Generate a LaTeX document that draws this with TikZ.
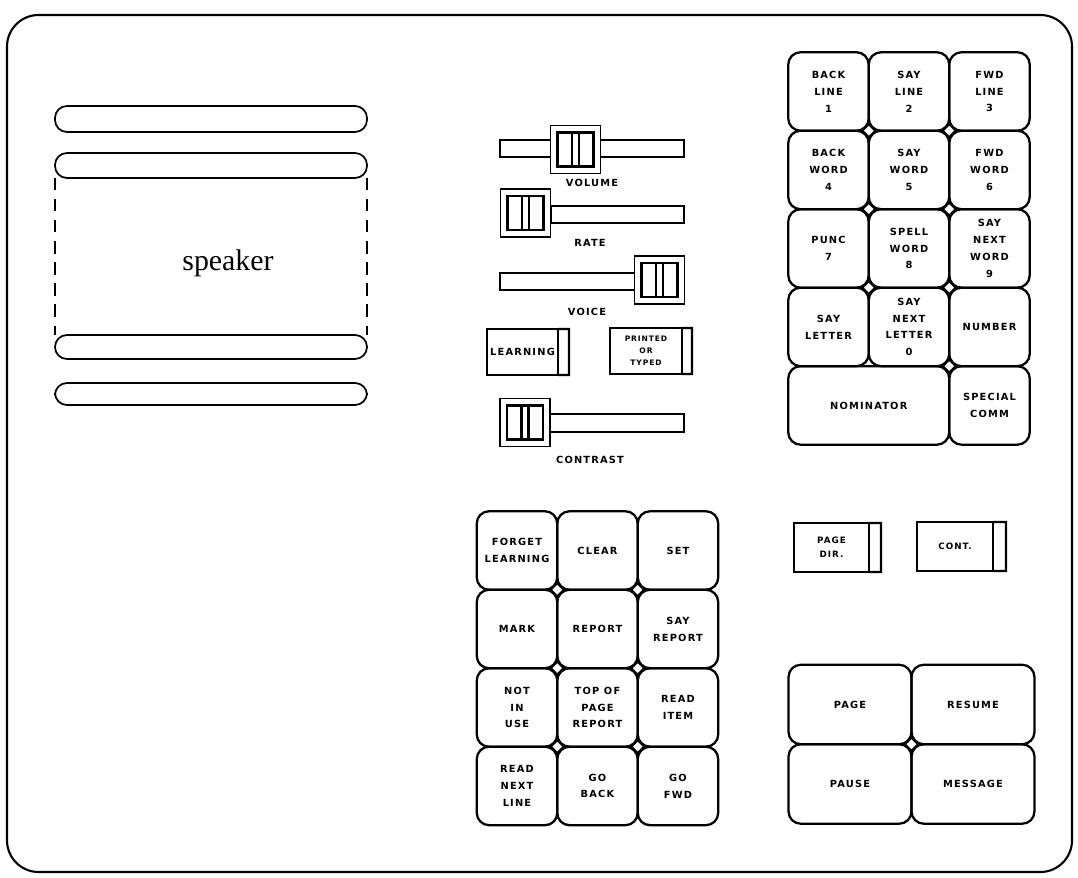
\documentclass[tikz,border=0pt]{standalone}
\usepackage{fontspec}
\newfontfamily\keyfam{DejaVu Sans}[LetterSpace=12]
\newfontfamily\spkfam{Liberation Serif}
\usetikzlibrary{positioning}
\tikzset{knob/.pic={
  \draw[line width=1.1pt, fill=white] (-25,-24) rectangle (25,24);
  \draw[line width=1.2pt] (-18,-17) rectangle (18,17) (-3.5,-17) -- (-3.5,17) (3.5,-17) -- (3.5,17);
}, joint/.pic={
  \draw[line width=1.2pt, fill=white] (-6.5,0) -- (0,-6.5) -- (6.5,0) -- (0,6.5) -- cycle;
}}

\begin{document}
\begin{tikzpicture}[x=0.02cm, y=-0.02cm, node distance=0pt,
  every node/.style={align=center, font={\keyfam\bfseries\fontsize{5.6}{9.6}\selectfont}},
  key/.style={draw, line width=1.3pt, rounded corners=7pt, minimum width=1.61cm, minimum height=1.57cm, outer sep=0pt, inner sep=1pt},
  bigkey/.style={key, minimum width=2.46cm, minimum height=1.59cm},
  toggle/.style={draw, line width=1.2pt, minimum height=0.92cm, outer sep=0pt, inner sep=1pt},
  track/.style={draw, line width=1.1pt, fill=white},
  bar/.style={draw, line width=1pt, rounded corners=0.24cm}]
\useasboundingbox (0,0) rectangle (1078,878);
% panel
\draw[line width=1.2pt, rounded corners=18pt] (7,15) rectangle (1072,872);
% speaker grille
\draw[bar] (55,106) rectangle (367,132);
\draw[bar] (55,153) rectangle (367,178);
\draw[bar] (55,335) rectangle (367,359);
\draw[bar] (55,383) rectangle (367,405);
\draw[line width=0.6pt, dash pattern=on 7pt off 5pt] (55,178) -- (55,335) (367,178) -- (367,335);
\node[font={\spkfam\fontsize{17}{20}\selectfont}] (spk) at (228,263) {speaker};
% sliders
\draw[track] (500,140) rectangle (684,157);
\pic at (575.5,149.5) {knob};
\node (vol) at (592,183) {VOLUME};
\draw[track] (551,206) rectangle (684,223);
\pic at (525.5,213) {knob};
\node (rate) at (590,243) {RATE};
\draw[track] (500,273) rectangle (635,290);
\pic at (659.5,280) {knob};
\node (voice) at (587,312) {VOICE};
\draw[track] (549,414) rectangle (684,432);
\pic at (525,422.5) {knob};
\node (contrast) at (590,460) {CONTRAST};
% switches
\node[toggle, minimum width=1.42cm] (learning) at (522.5,352) {LEARNING};
\draw[line width=1.2pt] (learning.north east) -- ++(11,0) -- ++(0,46) -- (learning.south east);
\node[toggle, minimum width=1.44cm, font={\keyfam\bfseries\fontsize{4.3}{6.7}\selectfont}] (printed) at (646,351) {PRINTED\\OR\\TYPED};
\draw[line width=1.2pt] (printed.north east) -- ++(10,0) -- ++(0,46) -- (printed.south east);
\node[toggle, minimum width=1.5cm, minimum height=0.98cm, font={\keyfam\bfseries\fontsize{5}{7.8}\selectfont}] (pagedir) at (831.5,547.5) {PAGE\\DIR.};
\draw[line width=1.2pt] (pagedir.north east) -- ++(12,0) -- ++(0,49) -- (pagedir.south east);
\node[toggle, minimum width=1.52cm, minimum height=0.98cm, font={\keyfam\bfseries\fontsize{5}{7.8}\selectfont}] (cont) at (955,546.5) {CONT.};
\draw[line width=1.2pt] (cont.north east) -- ++(13,0) -- ++(0,49) -- (cont.south east);
% reading keypad
\node[key] (bline) at (828.5,91.5) {BACK\\LINE\\1};
\node[key, right=of bline] (sline) {SAY\\LINE\\2};
\node[key, right=of sline] (fline) {FWD\\LINE\\3};
\node[key, below=of bline] (bword) {BACK\\WORD\\4};
\node[key, right=of bword] (sword) {SAY\\WORD\\5};
\node[key, right=of sword] (fword) {FWD\\WORD\\6};
\node[key, below=of bword] (punc) {PUNC\\7};
\node[key, right=of punc] (spell) {SPELL\\WORD\\8};
\node[key, right=of spell] (snword) {SAY\\NEXT\\WORD\\9};
\node[key, below=of punc] (sletter) {SAY\\LETTER};
\node[key, right=of sletter] (snletter) {SAY\\NEXT\\LETTER\\0};
\node[key, right=of snletter] (number) {NUMBER};
\node[key, minimum width=3.22cm, below right=of sletter.south west] (nomin) {NOMINATOR};
\node[key, below=of number] (special) {SPECIAL\\COMM};
\pic at (bline.south east) {joint};
\pic at (sline.south east) {joint};
\pic at (bword.south east) {joint};
\pic at (sword.south east) {joint};
\pic at (punc.south east) {joint};
\pic at (spell.south east) {joint};
\pic at (snletter.south east) {joint};
% function keypad
\node[key] (forget) at (517,550.5) {FORGET\\LEARNING};
\node[key, right=of forget] (clear) {CLEAR};
\node[key, right=of clear] (set) {SET};
\node[key, below=of forget] (mark) {MARK};
\node[key, right=of mark] (report) {REPORT};
\node[key, right=of report] (sayrep) {SAY\\REPORT};
\node[key, below=of mark] (notuse) {NOT\\IN\\USE};
\node[key, right=of notuse] (toprep) {TOP OF\\PAGE\\REPORT};
\node[key, right=of toprep] (readitem) {READ\\ITEM};
\node[key, below=of notuse] (readnext) {READ\\NEXT\\LINE};
\node[key, right=of readnext] (goback) {GO\\BACK};
\node[key, right=of goback] (gofwd) {GO\\FWD};
\pic at (forget.south east) {joint};
\pic at (clear.south east) {joint};
\pic at (mark.south east) {joint};
\pic at (report.south east) {joint};
\pic at (notuse.south east) {joint};
\pic at (toprep.south east) {joint};
% page keys
\node[bigkey] (page) at (850,704.5) {PAGE};
\node[bigkey, right=of page] (resume) {RESUME};
\node[bigkey, below=of page] (pause) {PAUSE};
\node[bigkey, right=of pause] (message) {MESSAGE};
\pic at (page.south east) {joint};
\end{tikzpicture}
\end{document}
